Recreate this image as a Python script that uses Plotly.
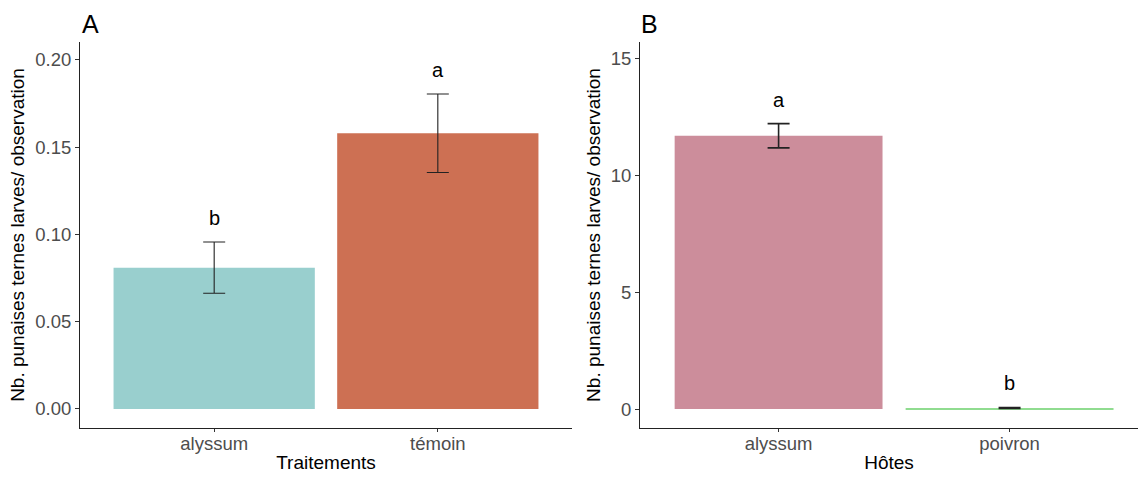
import plotly.graph_objects as go
from plotly.subplots import make_subplots

# Panel A: treatments
traitements = ["alyssum", "témoin"]
moy_a = [0.081, 0.158]
se_a = [0.0147, 0.0225]
lettres_a = ["b", "a"]
couleurs_a = ["#99CFCE", "#CD7053"]

# Panel B: host plants
hotes = ["alyssum", "poivron"]
moy_b = [11.69, 0.05]
se_b = [0.52, 0.02]
lettres_b = ["a", "b"]
couleurs_b = ["#CC8D9B", "#90DC90"]

ytitle = "Nb. punaises ternes larves/ observation"
FONT = "Liberation Sans, Arial, sans-serif"

fig = make_subplots(rows=1, cols=2, horizontal_spacing=0.06)

fig.add_trace(go.Bar(
    x=traitements, y=moy_a, width=0.9, marker_color=couleurs_a, marker_line_width=0,
    error_y=dict(type="data", array=se_a, color="#222222", thickness=1.1, width=11),
    showlegend=False), row=1, col=1)
fig.add_trace(go.Bar(
    x=hotes, y=moy_b, width=0.9, marker_color=couleurs_b, marker_line_width=0,
    error_y=dict(type="data", array=se_b, color="#222222", thickness=1.6, width=11),
    showlegend=False), row=1, col=2)

# significance letters above each error bar
for cat, m, s, l in zip(traitements, moy_a, se_a, lettres_a):
    fig.add_annotation(x=cat, y=m + s, text=l, showarrow=False, yshift=24,
                       xref="x", yref="y", font=dict(size=20, color="black", family=FONT))
for cat, m, s, l in zip(hotes, moy_b, se_b, lettres_b):
    fig.add_annotation(x=cat, y=m + s, text=l, showarrow=False, yshift=24,
                       xref="x2", yref="y2", font=dict(size=20, color="black", family=FONT))

# panel tags
fig.add_annotation(text="A", x=80 / 1138, y=1 - 8 / 477, xref="paper", yref="paper",
                   xanchor="left", yanchor="top", showarrow=False,
                   font=dict(size=25, color="black", family=FONT))
fig.add_annotation(text="B", x=639 / 1138, y=1 - 8 / 477, xref="paper", yref="paper",
                   xanchor="left", yanchor="top", showarrow=False,
                   font=dict(size=25, color="black", family=FONT))

ydom = [(477 - 428) / 477, (477 - 42) / 477]
axis_common = dict(showline=True, linecolor="#222222", linewidth=1.1, ticks="outside",
                   ticklen=4, tickcolor="#333333", tickwidth=1, showgrid=False,
                   zeroline=False, tickfont=dict(size=18.5, color="#4D4D4D", family=FONT))
title_font = dict(size=19, color="black", family=FONT)

fig.update_xaxes(**axis_common)
fig.update_yaxes(**axis_common)

fig.update_xaxes(ticklen=3, ticklabelstandoff=-4)
fig.update_xaxes(domain=[80 / 1138, 572 / 1138], range=[0.4 - 1, 2.6 - 1],
                 title=dict(text="Traitements", font=title_font, standoff=2),
                 row=1, col=1)
fig.update_xaxes(domain=[640 / 1138, 1.0], range=[0.4 - 1, 2.556 - 1],
                 title=dict(text="Hôtes", font=title_font, standoff=2),
                 row=1, col=2)
fig.update_yaxes(domain=ydom, range=[-0.0109, 0.2103], tickvals=[0, 0.05, 0.1, 0.15, 0.2],
                 ticktext=["0.00", "0.05", "0.10", "0.15", "0.20"],
                 title=dict(text=ytitle, font=title_font, standoff=5),
                 row=1, col=1)
fig.update_yaxes(domain=ydom, range=[-0.81, 15.7], tickvals=[0, 5, 10, 15],
                 title=dict(text=ytitle, font=title_font, standoff=5),
                 row=1, col=2)

fig.update_layout(width=1138, height=477, margin=dict(l=0, r=0, t=0, b=0),
                  plot_bgcolor="white", paper_bgcolor="white", bargap=0.1,
                  font=dict(family=FONT))

fig.write_html("out.html")
